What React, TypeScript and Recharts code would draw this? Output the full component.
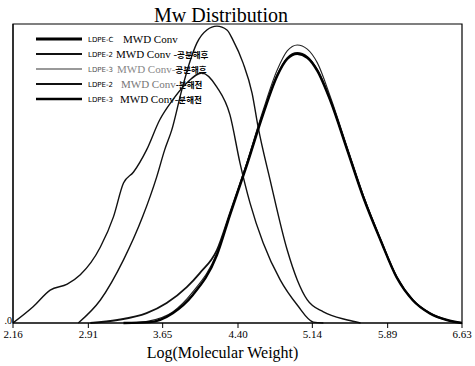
import React from 'react';
import { LineChart, Line, XAxis, YAxis, ReferenceArea, Customized, Label } from 'recharts';

const xTicks = [2.16, 2.91, 3.65, 4.40, 5.14, 5.89, 6.63];

// LDPE-2 MWD Conv-공분해후 (shoulder curve)
const a2X = [2.16, 2.36, 2.53, 2.70, 2.83, 3.03, 3.16, 3.26, 3.36, 3.49, 3.62, 3.75, 3.87, 4.04, 4.19, 4.32, 4.42, 4.52, 4.65, 4.82, 4.99, 5.15, 5.25];
const a2Y = [0, 0.054, 0.110, 0.130, 0.161, 0.254, 0.355, 0.468, 0.505, 0.579, 0.679, 0.746, 0.796, 0.836, 0.789, 0.696, 0.535, 0.401, 0.268, 0.144, 0.060, 0.003, 0];

// LDPE-3 MWD Conv-공분해후 (tall curve)
const a3X = [2.81, 3.03, 3.26, 3.45, 3.59, 3.67, 3.74, 3.84, 3.92, 3.99, 4.09, 4.19, 4.29, 4.35, 4.45, 4.54, 4.60, 4.72, 4.89, 4.99, 5.09, 5.25, 5.49, 5.62];
const a3Y = [0, 0.077, 0.211, 0.355, 0.488, 0.579, 0.645, 0.779, 0.873, 0.936, 0.980, 0.993, 0.980, 0.946, 0.870, 0.769, 0.656, 0.478, 0.244, 0.144, 0.077, 0.037, 0.010, 0];

// LDPE-C MWD Conv
const cX = [3.26, 3.52, 3.75, 3.95, 4.19, 4.32, 4.49, 4.65, 4.79, 4.89, 4.99, 5.09, 5.19, 5.32, 5.49, 5.65, 5.82, 5.98, 6.14, 6.31, 6.48, 6.63];
const cY = [0, 0.003, 0.033, 0.094, 0.227, 0.361, 0.530, 0.698, 0.826, 0.883, 0.900, 0.887, 0.843, 0.743, 0.576, 0.418, 0.276, 0.152, 0.076, 0.032, 0.010, 0];

// LDPE-2 MWD Conv-분해전
const b2X = [2.93, 3.20, 3.49, 3.69, 3.89, 4.02, 4.19, 4.32, 4.49, 4.65, 4.79, 4.89, 4.99, 5.09, 5.19, 5.32, 5.49, 5.65, 5.82, 5.98, 6.14, 6.31, 6.48, 6.63];
const b2Y = [0, 0.010, 0.033, 0.067, 0.120, 0.167, 0.244, 0.368, 0.535, 0.702, 0.829, 0.886, 0.903, 0.890, 0.846, 0.746, 0.579, 0.421, 0.278, 0.154, 0.077, 0.033, 0.010, 0];

// LDPE-3 MWD Conv-분해전
const b3X = [3.33, 3.52, 3.75, 3.95, 4.19, 4.32, 4.49, 4.65, 4.79, 4.89, 4.99, 5.09, 5.19, 5.32, 5.49, 5.65, 5.82, 5.98, 6.14, 6.31, 6.48, 6.63];
const b3Y = [0, 0.007, 0.037, 0.104, 0.234, 0.365, 0.538, 0.712, 0.846, 0.910, 0.930, 0.916, 0.870, 0.756, 0.585, 0.425, 0.278, 0.154, 0.077, 0.033, 0.010, 0];

const legendTags = ['LDPE-C', 'LDPE-2', 'LDPE-3', 'LDPE-2', 'LDPE-3'];
const legendMain = ['MWD Conv', 'MWD Conv -', 'MWD Conv-', 'MWD Conv', 'MWD Conv-'];
const legendSuffix = ['', '공분해후', '공분해후', '-분해전', '분해전'];

const toPts = (xs: number[], ys: number[]) => xs.map((x, i) => ({ x, y: ys[i] }));

const serif = "'Liberation Serif', 'Times New Roman', serif";

const legendStyle = [
  { w: 3, c: '#000', tagC: '#000', mainC: '#000', mainX: 123 },
  { w: 2, c: '#111', tagC: '#000', mainC: '#000', mainX: 116 },
  { w: 1.4, c: '#777', tagC: '#555', mainC: '#888', mainX: 117 },
  { w: 2, c: '#111', tagC: '#000', mainC: '#777', mainX: 121 },
  { w: 2.5, c: '#000', tagC: '#000', mainC: '#000', mainX: 120 },
];
const legendRowY = [39, 54, 69, 84, 99];

const Overlay = () => (
  <g>
    <text x={221} y={22} textAnchor="middle" style={{ fontFamily: serif, fontSize: 20 }} fill="#000">
      Mw Distribution
    </text>
    {legendTags.map((t, i) => {
      const s = legendStyle[i];
      const y = legendRowY[i];
      return (
        <g key={i}>
          <line x1={36} x2={82} y1={y} y2={y} stroke={s.c} strokeWidth={s.w} />
          <text x={88} y={y + 3} style={{ fontFamily: "'DejaVu Sans', sans-serif", fontSize: 7 }} fill={s.tagC}>
            {t}
          </text>
          <text x={s.mainX} y={y + 4} style={{ fontFamily: serif, fontSize: 11 }} fill={s.mainC}>
            {legendMain[i]}
            <tspan style={{ fontFamily: "'Noto Sans CJK KR', sans-serif", fontSize: 8.5, fontWeight: 'bold' }} fill="#000">
              {legendSuffix[i]}
            </tspan>
          </text>
        </g>
      );
    })}
  </g>
);

export default function App() {
  return (
    <div style={{ position: 'absolute', left: 0, top: 0, background: '#fff' }}>
      <LineChart width={475} height={366} margin={{ top: 24, right: 13, left: 0, bottom: 0 }}>
        <XAxis
          dataKey="x"
          type="number"
          domain={[2.16, 6.63]}
          ticks={xTicks}
          tickFormatter={(v: number) => v.toFixed(2)}
          allowDataOverflow
          stroke="#000"
          tickSize={5}
          tickMargin={2}
          tick={{ fontSize: 11, fontFamily: serif, fill: '#000' }}
          height={43}
        >
          <Label
            value="Log(Molecular Weight)"
            position="insideBottom"
            offset={8}
            dx={-15}
            style={{ fontSize: 16, fontFamily: serif, fill: '#000' }}
          />
        </XAxis>
        <YAxis
          type="number"
          domain={[0, 1]}
          ticks={[0]}
          width={13}
          tickSize={0}
          tickMargin={1}
          tickLine={false}
          tickFormatter={() => '.0'}
          stroke="#000"
          tick={{ fontSize: 10, fontFamily: serif, fill: '#000', dy: -3 }}
        />
        <ReferenceArea x1={2.16} x2={6.63} y1={0} y2={1} fill="none" stroke="#000" strokeWidth={1.2} ifOverflow="visible" />
        <Line data={toPts(a2X, a2Y)} dataKey="y" type="monotone" stroke="#111" strokeWidth={1.4} dot={false} isAnimationActive={false} />
        <Line data={toPts(a3X, a3Y)} dataKey="y" type="monotone" stroke="#111" strokeWidth={1.4} dot={false} isAnimationActive={false} />
        <Line data={toPts(b2X, b2Y)} dataKey="y" type="monotone" stroke="#111" strokeWidth={1.8} dot={false} isAnimationActive={false} />
        <Line data={toPts(b3X, b3Y)} dataKey="y" type="monotone" stroke="#222" strokeWidth={1.1} dot={false} isAnimationActive={false} />
        <Line data={toPts(cX, cY)} dataKey="y" type="monotone" stroke="#000" strokeWidth={2.4} dot={false} isAnimationActive={false} />
        <Customized component={Overlay} />
      </LineChart>
    </div>
  );
}
